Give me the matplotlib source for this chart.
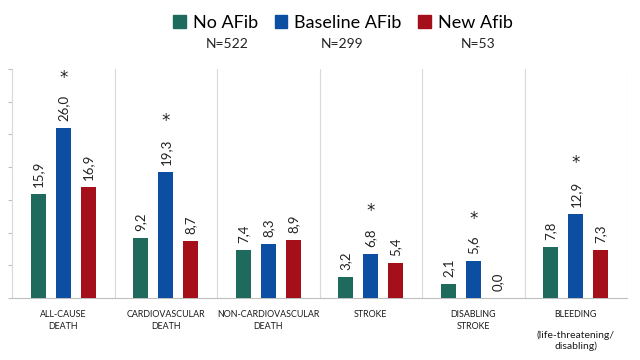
import numpy as np
import matplotlib
matplotlib.use("Agg")
from matplotlib import pyplot as plt
from matplotlib.patches import Patch

plt.rcParams['font.family'] = ['Lato', 'DejaVu Sans']

# data
categories = ["ALL-CAUSE\nDEATH", "CARDIOVASCULAR\nDEATH", "NON-CARDIOVASCULAR\nDEATH",
              "STROKE", "DISABLING\nSTROKE", "BLEEDING"]
bleeding_note = "(life-threatening/\ndisabling)"
no_afib = [15.9, 9.2, 7.4, 3.2, 2.1, 7.8]
baseline_afib = [26.0, 19.3, 8.3, 6.8, 5.6, 12.9]
new_afib = [16.9, 8.7, 8.9, 5.4, 0.0, 7.3]
series_names = ["No AFib", "Baseline AFib", "New Afib"]
series_n = ["N=522", "N=299", "N=53"]
significant = [True, True, False, True, True, True]  # asterisk over baseline bar

colors = ["#1E6B5E", "#0B4EA2", "#A50F1A"]

fig = plt.figure(figsize=(6.4, 3.6), dpi=100)
ax = fig.add_axes([12 / 640, 1 - 298 / 360, 615 / 640, 229 / 360])

x = np.arange(len(categories))
offs = [-0.244, 0.0, 0.244]
width = 0.147
labels = []
for vals, off, col in zip([no_afib, baseline_afib, new_afib], offs, colors):
    bars = ax.bar(x + off, vals, width, color=col, zorder=3)
    for b, v in zip(bars, vals):
        t = ax.annotate(f"{v:.1f}".replace(".", ","),
                        (b.get_x() + b.get_width() / 2, v),
                        xytext=(0, 5), textcoords="offset points",
                        rotation=90, ha="center", va="bottom", fontsize=9.5,
                        color="#222222")
        labels.append((t, col))

ax.set_xlim(-0.5, len(categories) - 0.5)
ax.set_ylim(0, 35)
ax.set_yticks(np.arange(0, 36, 5))
ax.set_yticklabels([])
ax.tick_params(axis="y", length=3, color="#bfbfbf", width=0.8)
ax.set_xticks(x)
ax.set_xticklabels(categories, fontsize=6.4, linespacing=1.4, color="#1a1a1a")
ax.tick_params(axis="x", length=0, pad=8.5)
for s in ["top", "right"]:
    ax.spines[s].set_visible(False)
ax.spines["left"].set_color("#d9d9d9")
ax.spines["bottom"].set_color("#bfbfbf")
for b in np.arange(0.5, len(categories), 1.0):
    ax.axvline(b, color="#d9d9d9", lw=0.8, zorder=1)

ax.annotate(bleeding_note, (x[-1], 0), xycoords=("data", "axes fraction"),
            xytext=(0, -31), textcoords="offset points", ha="center", va="center",
            fontsize=7.5, linespacing=1.15, color="#1a1a1a")

# asterisks above the baseline labels
fig.canvas.draw()
renderer = fig.canvas.get_renderer()
blue_labels = [t for t, c in labels if c == colors[1]]
for t, sig in zip(blue_labels, significant):
    if not sig:
        continue
    bb = t.get_window_extent(renderer)
    xd, yd = ax.transData.inverted().transform(((bb.x0 + bb.x1) / 2, bb.y1 + 17))
    ax.text(xd, yd, "*", ha="center", va="center", fontsize=12, color="#222222",
            family="DejaVu Sans")

handles = [Patch(color=c) for c in colors]
fig.legend(handles, series_names, loc="center", bbox_to_anchor=(343 / 640, 1 - 23 / 360),
           ncol=3, frameon=False, fontsize=13, handlelength=0.7, handleheight=0.7,
           handletextpad=0.4, columnspacing=0.9)
for nx, txt in zip([227, 342, 478], series_n):
    fig.text(nx / 640, 1 - 44 / 360, txt, ha="center", va="center", fontsize=10,
             color="#222222")

fig.savefig("out.png", dpi=100)
